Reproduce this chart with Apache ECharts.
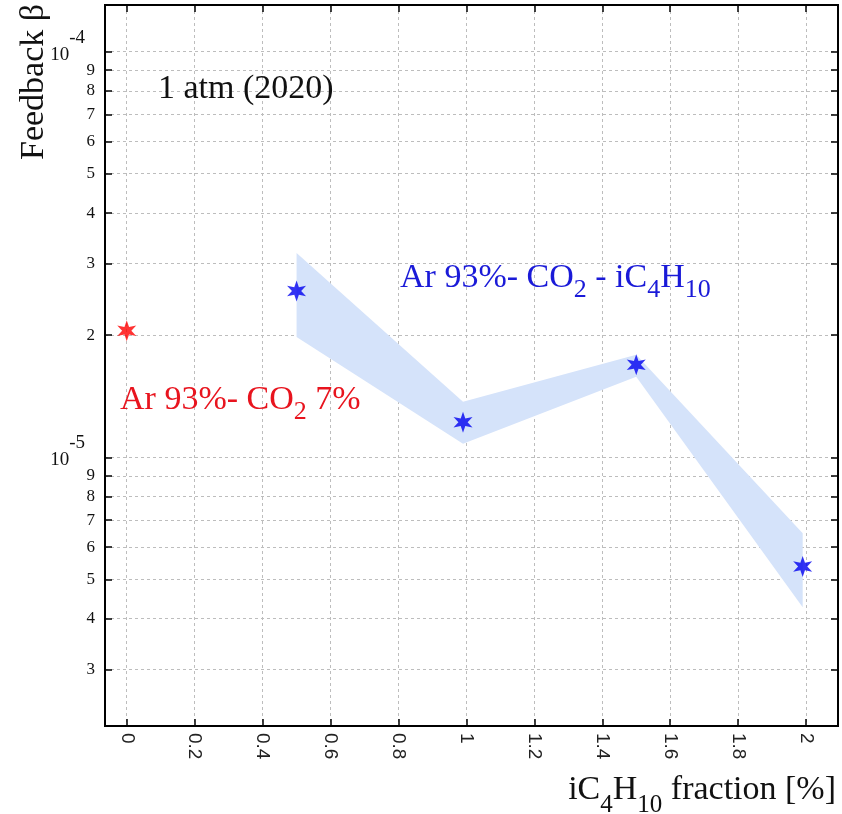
<!DOCTYPE html>
<html><head><meta charset="utf-8">
<script src="https://cdn.jsdelivr.net/npm/echarts@6/dist/echarts.min.js"></script>
<style>html,body{margin:0;padding:0;background:#fff}#c{width:842px;height:814px}</style>
</head><body><div id="c"></div>
<script>
// ---- data ----
const xTicks = [0, 0.2, 0.4, 0.6, 0.8, 1, 1.2, 1.4, 1.6, 1.8, 2];
const yTicks = [3e-6, 4e-6, 5e-6, 6e-6, 7e-6, 8e-6, 9e-6, 1e-5, 2e-5, 3e-5, 4e-5, 5e-5, 6e-5, 7e-5, 8e-5, 9e-5, 1e-4];
const refX = [0];
const refY = [2.05e-5];
const mixX = [0.5, 0.99, 1.5, 1.99];
const mixY = [2.57e-5, 1.22e-5, 1.69e-5, 5.38e-6];
const bandUpper = [3.19e-5, 1.37e-5, 1.79e-5, 6.5e-6];
const bandLower = [1.98e-5, 1.08e-5, 1.58e-5, 4.27e-6];
const xRange = [-0.064, 2.094];
const yRange = [2.175e-6, 1.303e-4];

// ---- helpers ----
const lg = v => Math.log10(v);
function starPath() {
  const pts = [];
  for (let i = 0; i < 12; i++) {
    const a = (-90 + i * 30) * Math.PI / 180;
    const r = i % 2 === 0 ? 10 : 4.2;
    pts.push((10 + r * Math.cos(a)).toFixed(2) + ' ' + (10 + r * Math.sin(a)).toFixed(2));
  }
  return 'path://M' + pts.join(' L') + ' Z';
}
const STAR = starPath();
const yTickLog = yTicks.map(lg);
const yTopLog = lg(yRange[1]);
function yLabel(v) {
  if (Math.abs(v - yTopLog) < 1e-9) return '';
  const e = Math.floor(v + 1e-6);
  const m = Math.round(Math.pow(10, v - e));
  if (m === 1) return '{b|10}{s|' + e + '}';
  if (m === 10) return '{b|10}{s|' + (e + 1) + '}';
  return '{d|' + m + '}';
}
const serif = '"Liberation Serif", "DejaVu Serif", serif';
const sans = '"Liberation Sans", Arial, sans-serif';
// an empty label at the very top keeps the 10^-4 label from being treated as the max label
const yLabelValues = yTickLog.concat([yTopLog]);

const yRich = {
  d: { fontFamily: serif, fontSize: 17, lineHeight: 17, color: '#111' },
  b: { fontFamily: serif, fontSize: 19, lineHeight: 19, color: '#111', padding: [6, 0, 0, 0] },
  s: { fontFamily: serif, fontSize: 19, lineHeight: 19, color: '#111', padding: [0, 10, 28, 0] }
};

const chart = echarts.init(document.getElementById('c'), null, { renderer: 'canvas' });
const option = {
  animation: false,
  backgroundColor: '#fff',
  grid: { left: 105, right: 4, top: 5, bottom: 88, show: true, borderColor: '#000', borderWidth: 2, backgroundColor: 'transparent', containLabel: false, outerBoundsMode: 'none' },
  xAxis: [{
    type: 'value', min: xRange[0], max: xRange[1], position: 'bottom',
    axisLine: { show: true, onZero: false, lineStyle: { color: '#000', width: 2 } },
    axisTick: { show: true, inside: true, length: 7, customValues: xTicks, lineStyle: { color: '#000', width: 1.5 } },
    axisLabel: { show: true, customValues: xTicks, rotate: -90, margin: 7, fontFamily: sans, fontSize: 19, color: '#222', hideOverlap: false },
    splitLine: { show: true, lineStyle: { color: '#bdbdbd', type: [3, 3], width: 1 } }
  }, {
    type: 'value', min: xRange[0], max: xRange[1], position: 'top',
    axisLine: { show: true, onZero: false, lineStyle: { color: '#000', width: 2 } },
    axisTick: { show: true, inside: true, length: 7, customValues: xTicks, lineStyle: { color: '#000', width: 1.5 } },
    axisLabel: { show: false }, splitLine: { show: false }
  }],
  yAxis: [{
    type: 'value', min: lg(yRange[0]), max: yTopLog, position: 'left',
    axisLine: { show: true, onZero: false, lineStyle: { color: '#000', width: 2 } },
    axisTick: { show: true, inside: true, length: 7, customValues: yTickLog, lineStyle: { color: '#000', width: 1.5 } },
    axisLabel: { show: true, customValues: yLabelValues, margin: 10, formatter: yLabel, fontFamily: serif, fontSize: 17, color: '#111', rich: yRich, hideOverlap: false, showMinLabel: true, showMaxLabel: true },
    splitLine: { show: true, lineStyle: { color: '#bdbdbd', type: [3, 3], width: 1 } }
  }, {
    type: 'value', min: lg(yRange[0]), max: yTopLog, position: 'right',
    axisLine: { show: true, onZero: false, lineStyle: { color: '#000', width: 2 } },
    axisTick: { show: true, inside: true, length: 7, customValues: yTickLog, lineStyle: { color: '#000', width: 1.5 } },
    axisLabel: { show: false }, splitLine: { show: false }
  }],
  series: [{
    type: 'custom', silent: true, z: 1,
    data: [[mixX[0], lg(bandUpper[0])]],
    renderItem: function (params, api) {
      const pts = [];
      for (let i = 0; i < mixX.length; i++) pts.push(api.coord([mixX[i], lg(bandUpper[i])]));
      for (let i = mixX.length - 1; i >= 0; i--) pts.push(api.coord([mixX[i], lg(bandLower[i])]));
      return { type: 'polygon', shape: { points: pts }, style: { fill: '#d5e3fa', stroke: null } };
    }
  }, {
    type: 'scatter', z: 3, symbol: STAR, symbolSize: [19, 21],
    itemStyle: { color: '#0000f0' },
    data: mixX.map((x, i) => [x, lg(mixY[i])])
  }, {
    type: 'scatter', z: 3, symbol: STAR, symbolSize: [19, 21],
    itemStyle: { color: '#ff0000' },
    data: refX.map((x, i) => [x, lg(refY[i])])
  }],
  graphic: [
    { type: 'text', x: 34, y: 160, rotation: Math.PI / 2, z: 10,
      style: { text: 'Feedback β', fontFamily: serif, fontSize: 34, fill: '#111', align: 'left', verticalAlign: 'middle' } },
    { type: 'text', x: 836, y: 790, z: 10,
      style: { text: '{t|iC}{s|4}{t|H}{s|10}{t| fraction [%]}', fill: '#111', align: 'right', verticalAlign: 'middle',
        rich: { t: { fontFamily: serif, fontSize: 34, fill: '#111' }, s: { fontFamily: serif, fontSize: 25, lineHeight: 25, fill: '#111', padding: [30, 0, 0, 0] } } } },
    { type: 'text', x: 158, y: 89, z: 10,
      style: { text: '1 atm (2020)', fontFamily: serif, fontSize: 34, fill: '#111', align: 'left', verticalAlign: 'middle' } },
    { type: 'text', x: 120, y: 400, z: 10,
      style: { text: '{t|Ar 93%- CO}{s|2}{t| 7%}', fill: '#e8141e', align: 'left', verticalAlign: 'middle',
        rich: { t: { fontFamily: serif, fontSize: 34, fill: '#e8141e' }, s: { fontFamily: serif, fontSize: 26, lineHeight: 26, fill: '#e8141e', padding: [24, 0, 0, 0] } } } },
    { type: 'text', x: 400, y: 278, z: 10,
      style: { text: '{t|Ar 93%- CO}{s|2}{t| - iC}{s|4}{t|H}{s|10}', fill: '#1a1ad8', align: 'left', verticalAlign: 'middle',
        rich: { t: { fontFamily: serif, fontSize: 34, fill: '#1a1ad8' }, s: { fontFamily: serif, fontSize: 26, lineHeight: 26, fill: '#1a1ad8', padding: [24, 0, 0, 0] } } } }
  ]
};
chart.setOption(option);
</script></body></html>
